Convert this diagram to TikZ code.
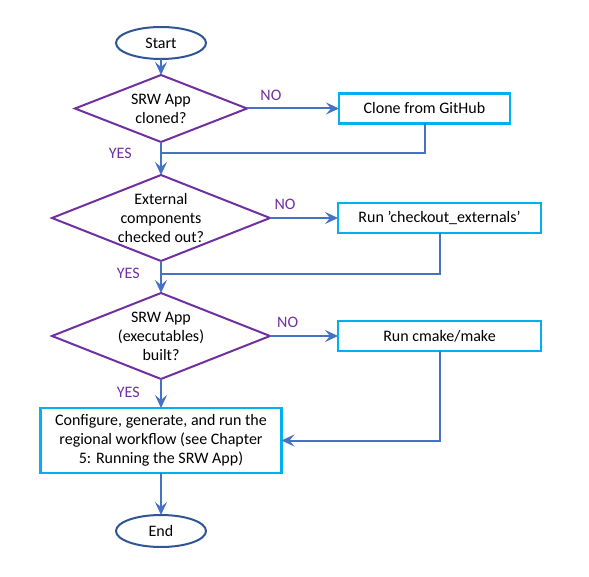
\documentclass[tikz,border=0pt]{standalone}
\usepackage{fontspec}
\setmainfont{Carlito}
\usetikzlibrary{shapes.geometric, arrows.meta, positioning}

\definecolor{termblue}{HTML}{2F5597}
\definecolor{decpurple}{HTML}{7030A0}
\definecolor{boxcyan}{HTML}{00B0F0}
\definecolor{flowblue}{HTML}{4472C4}

\begin{document}
\begin{tikzpicture}[x=1pt, y=1pt,
  font=\fontsize{16}{19}\selectfont,
  every node/.style={outer sep=0pt},
  terminal/.style={ellipse, draw=termblue, line width=2pt, minimum width=90pt, minimum height=32pt, inner sep=0pt},
  decision/.style={diamond, draw=decpurple, line width=2pt, aspect=2.55, inner sep=-8pt, align=center},
  process/.style={rectangle, draw=boxcyan, line width=2.2pt, align=center},
  flow/.style={draw=flowblue, line width=2pt, -{Stealth[length=13pt, width=12pt, inset=5pt]}},
  answer/.style={text=decpurple}]
  \useasboundingbox (0,0) rectangle (589,-577);

  % start
  \node (start) [terminal] at (161,-43) {Start};

  %%%%%%%%%%%%%%%%%%
  \node (cloned) [decision, minimum width=172pt, minimum height=67pt, below=16pt of start] {SRW App\\cloned?};
  \node (clone) [process, minimum width=171pt, minimum height=30pt, right=92pt of cloned] {Clone from GitHub};
  \coordinate [below=11pt of cloned] (join1);

  %%%%%%%%%%%%%%%%%%
  \node (externals) [decision, minimum width=218pt, minimum height=86pt, below=33pt of cloned] {External\\components\\checked out?};
  \node (checkout) [process, minimum width=203pt, minimum height=30pt, right=68pt of externals] {Run 'checkout\_externals'};
  \coordinate [below=13pt of externals] (join2);

  %%%%%%%%%%%%%%%%%%
  \node (built) [decision, minimum width=218pt, minimum height=86pt, below=32pt of externals] {SRW App\\(executables)\\built?};
  \node (build) [process, minimum width=203pt, minimum height=30pt, right=68pt of built] {Run cmake/make};

  %%%%%%%%%%%%%%%%%%
  \node (run) [process, minimum width=241pt, minimum height=65pt, below=29pt of built] {Configure, generate, and run the\\regional workflow (see Chapter\\5: Running the SRW App)};

  \node (finish) [terminal, below=42pt of run] {End};

  %%%%%%%%%%%%%%%%%%%%
  %%%%%%%%%%%%%%%%%%%%
  \draw [flow] (start) to (cloned);
  \draw [flow] (cloned) -- node[answer, pos=0.26, above=5pt]{NO} (clone);
  \draw [flow] (cloned) -- node[answer, pos=0.35, left=26pt]{YES} (externals);
  \draw [flow, -] (clone.south) |- (join1);

  \draw [flow] (externals) -- node[answer, pos=0.22, above=5pt]{NO} (checkout);
  \draw [flow] (externals) -- node[answer, pos=0.4, left=18pt]{YES} (built);
  \draw [flow, -] (checkout.south) |- (join2);

  \draw [flow] (built) -- node[answer, pos=0.26, above=5pt]{NO} (build);
  \draw [flow] (built) -- node[answer, pos=0.45, left=18pt]{YES} (run);
  \draw [flow] (build.south) |- (run.east);

  \draw [flow] (run) to (finish);

\end{tikzpicture}
\end{document}
